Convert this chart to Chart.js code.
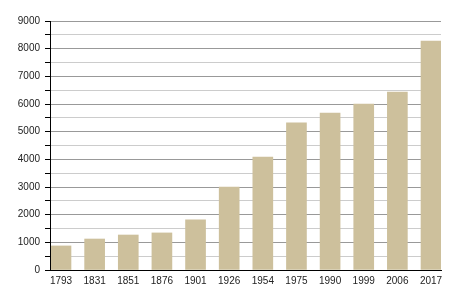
<!DOCTYPE html>
<html>
<head>
<meta charset="utf-8">
<script src="https://cdn.jsdelivr.net/npm/chart.js@4/dist/chart.umd.min.js"></script>
<style>
  body { margin: 0; background: #fff; }
</style>
</head>
<body>
<canvas id="chart" width="450" height="300"></canvas>
<script>
// population by census year
const years = ['1793', '1831', '1851', '1876', '1901', '1926', '1954', '1975', '1990', '1999', '2006', '2017'];
const population = [870, 1120, 1265, 1340, 1810, 3000, 4085, 5315, 5675, 6000, 6435, 8275];

const yMax = 9000;
const yStep = 500;

const ctx = document.getElementById('chart').getContext('2d');
new Chart(ctx, {
  type: 'bar',
  data: {
    datasets: [{
      data: population.map((v, i) => ({ x: i, y: v })),
      backgroundColor: '#cdc09c',
      borderWidth: 0,
      barThickness: 20,
    }],
  },
  options: {
    responsive: false,
    animation: false,
    layout: { padding: { top: 21, right: 9, left: 0, bottom: 0 } },
    plugins: {
      legend: { display: false },
      tooltip: { enabled: false },
    },
    scales: {
      x: {
        type: 'linear',
        offset: false,
        min: -0.327,
        max: 11.297,
        grid: { display: false, drawTicks: false, offset: false },
        border: { display: true, color: '#000', width: 1, z: 2 },
        ticks: {
          stepSize: 1,
          includeBounds: false,
          autoSkip: false,
          maxRotation: 0,
          padding: 5,
          color: '#222',
          font: { family: 'Liberation Sans, Arial, sans-serif', size: 10 },
          callback: (v) => years[v] ?? '',
        },
        afterFit: (scale) => { scale.height = 30; },
      },
      y: {
        min: 0,
        max: yMax,
        grid: {
          color: (c) => (c.tick.value % 1000 === 0 ? '#999999' : '#cccccc'),
          tickColor: '#000',
          tickLength: 5,
          drawTicks: true,
        },
        border: { display: true, color: '#000', width: 1, z: 2 },
        ticks: {
          stepSize: yStep,
          autoSkip: false,
          padding: 5,
          color: '#222',
          font: { family: 'Liberation Sans, Arial, sans-serif', size: 10 },
          callback: (v) => (v % 1000 === 0 ? v : ''),
        },
        afterFit: (scale) => { scale.width = 50; },
      },
    },
  },
});
</script>
</body>
</html>
